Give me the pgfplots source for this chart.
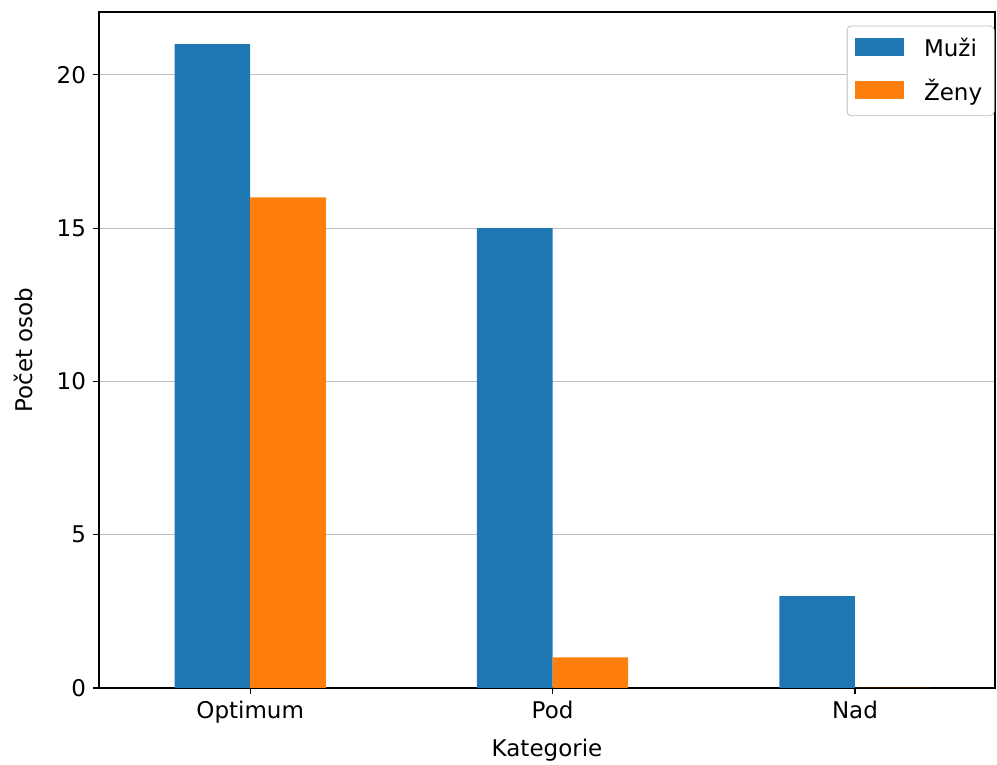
\documentclass[border=0pt]{standalone}
\usepackage{fontspec}
\setmainfont{DejaVu Sans}
\usepackage{pgfplots}
\pgfplotsset{compat=1.18}
\definecolor{mblue}{HTML}{1F77B4}
\definecolor{morange}{HTML}{FF7F0E}
\begin{document}
\begin{tikzpicture}
\path[use as bounding box] (0,0) rectangle (498.5pt,382.5pt);
\begin{axis}[
  at={(49.5pt,38.5pt)}, anchor=south west,
  scale only axis, width=448pt, height=338pt,
  ybar=0pt, bar width=0.25,
  xmin=-0.5, xmax=2.463, ymin=0, ymax=22.05,
  xtick={0,1,2}, xticklabels={Optimum,Pod,Nad},
  ytick={0,5,10,15,20},
  ymajorgrids, major grid style={color=black!25, line width=0.6pt},
  tick align=outside, major tick length=3pt,
  xtick pos=bottom, ytick pos=left,
  tick style={black, line width=0.6pt},
  axis line style={line width=0.6pt},
  /pgf/number format/assume math mode=true,
  tick label style={font=\fontsize{11.5}{14}\selectfont},
  label style={font=\fontsize{11.5}{14}\selectfont},
  xlabel={Kategorie}, ylabel={Počet osob},
  xlabel style={yshift=-1pt},
  ylabel style={yshift=5pt},
  legend style={at={(0.9995,0.98)}, anchor=north east, draw=black!25, rounded corners=2pt,
    font=\fontsize{11.5}{14}\selectfont, row sep=6pt, inner xsep=4pt, inner ysep=4pt},
  legend image code/.code={\draw[#1, draw=none, sharp corners] (0cm,-0.13cm) rectangle (0.86cm,0.19cm);},
  legend cell align=left,
]
\addplot[fill=mblue, draw=none] coordinates {(0,21) (1,15) (2,3)};
\addplot[fill=morange, draw=none] coordinates {(0,16) (1,1) (2,0)};
\legend{\hspace{8pt}Muži, \hspace{8pt}Ženy}
\end{axis}
\end{tikzpicture}
\end{document}
